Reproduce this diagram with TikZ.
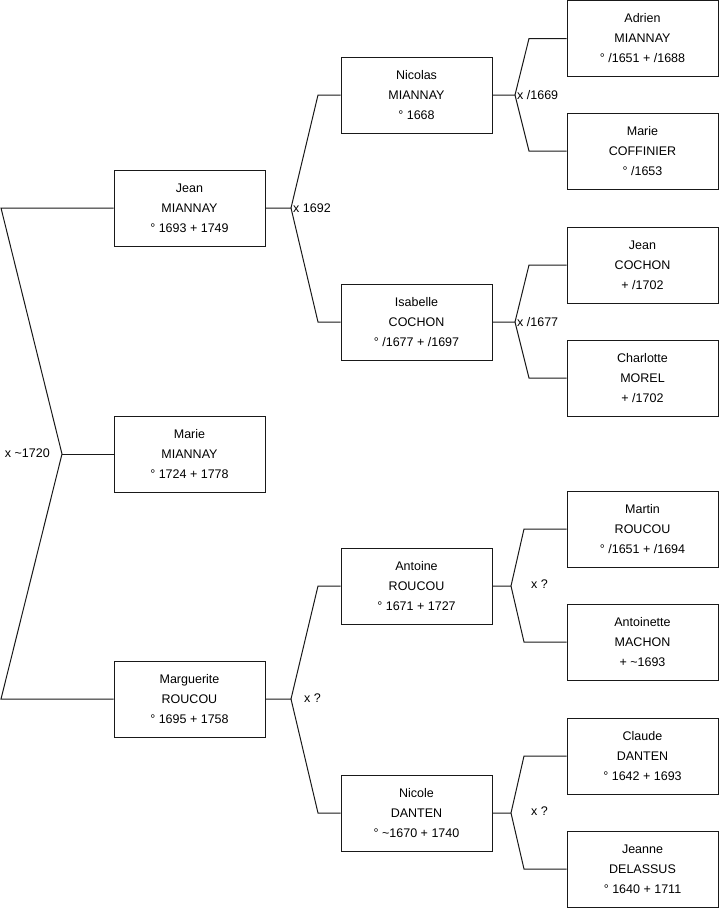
\documentclass[tikz,border=0pt]{standalone}
\usepackage{fontspec}
\setmainfont{Liberation Sans}
\usetikzlibrary{positioning}
\definecolor{inkLine}{RGB}{25, 25, 25}

\tikzset{
  person/.style={draw=inkLine, fill=white, line width=1pt, minimum width=151pt, minimum height=76pt,
    inner sep=0pt, align=center, font=\fontsize{12.5pt}{20pt}\selectfont},
  link/.style={draw=inkLine, line width=1pt},
  union/.style={font=\fontsize{12.5pt}{15pt}\selectfont, inner sep=2pt}
}

\begin{document}
\begin{tikzpicture}[x=1pt, y=-1pt]
  \useasboundingbox (0,0) rectangle (719,908);

  % generation 1
  \node[person] (jean)       at (189.5,208) {Jean\\MIANNAY\\° 1693 + 1749};
  \node[person] (marie)      at (189.5,454) {Marie\\MIANNAY\\° 1724 + 1778};
  \node[person] (marguerite) at (189.5,699) {Marguerite\\ROUCOU\\° 1695 + 1758};

  % generation 2
  \node[person] (nicolas)  at (416.5,95)  {Nicolas\\MIANNAY\\° 1668};
  \node[person] (isabelle) at (416.5,322) {Isabelle\\COCHON\\° /1677 + /1697};
  \node[person] (antoine)  at (416.5,586) {Antoine\\ROUCOU\\° 1671 + 1727};
  \node[person] (nicole)   at (416.5,813) {Nicole\\DANTEN\\° \textasciitilde1670 + 1740};

  % generation 3
  \node[person] (adrien)     at (642.5,38.5) {Adrien\\MIANNAY\\° /1651 + /1688};
  \node[person] (mariec)     at (642.5,151)  {Marie\\COFFINIER\\° /1653};
  \node[person] (jeanc)      at (642.5,265)  {Jean\\COCHON\\+ /1702};
  \node[person] (charlotte)  at (642.5,378)  {Charlotte\\MOREL\\+ /1702};
  \node[person] (martin)     at (642.5,529)  {Martin\\ROUCOU\\° /1651 + /1694};
  \node[person] (antoinette) at (642.5,642)  {Antoinette\\MACHON\\+ \textasciitilde1693};
  \node[person] (claude)     at (642.5,756)  {Claude\\DANTEN\\° 1642 + 1693};
  \node[person] (jeanne)     at (642.5,869)  {Jeanne\\DELASSUS\\° 1640 + 1711};

  % first couple, drawn to the left
  \coordinate (sib)    at (62,0 |- marie.west);
  \coordinate (sibTop) at (1,0 |- jean.west);
  \coordinate (sibBot) at (1,0 |- marguerite.west);
  \draw[link] (jean.west) -- (sibTop) -- (sib) -- (sibBot) -- (marguerite.west);
  \draw[link] (sib) -- (marie.west);

  % parent forks
  \foreach \kid/\dad/\mum/\jx/\kx in {jean/nicolas/isabelle/291/318,
      marguerite/antoine/nicole/291/318,
      nicolas/adrien/mariec/515/529, isabelle/jeanc/charlotte/515/529,
      antoine/martin/antoinette/511/524, nicole/claude/jeanne/511/524} {
    \draw[link] (\kid.east) -- (\jx,0 |- \kid.east) coordinate (x\kid)
      -- (\kx,0 |- \dad.west) -- (\dad.west);
    \draw[link] (x\kid) -- (\kx,0 |- \mum.west) -- (\mum.west);
  }

  % marriage labels
  \node[union, anchor=east] (u0) at (52,453) {x \textasciitilde1720};
  \node[union, anchor=west] (u1) at (xjean) {x 1692};
  \node[union, anchor=west] (u2) at (302,698) {x ?};
  \node[union, anchor=west] (u3) at (xnicolas) {x /1669};
  \node[union, anchor=west] (u4) at (xisabelle) {x /1677};
  \node[union, anchor=west] (u5) at (529,584) {x ?};
  \node[union, anchor=west] (u6) at (529,811) {x ?};
\end{tikzpicture}
\end{document}
